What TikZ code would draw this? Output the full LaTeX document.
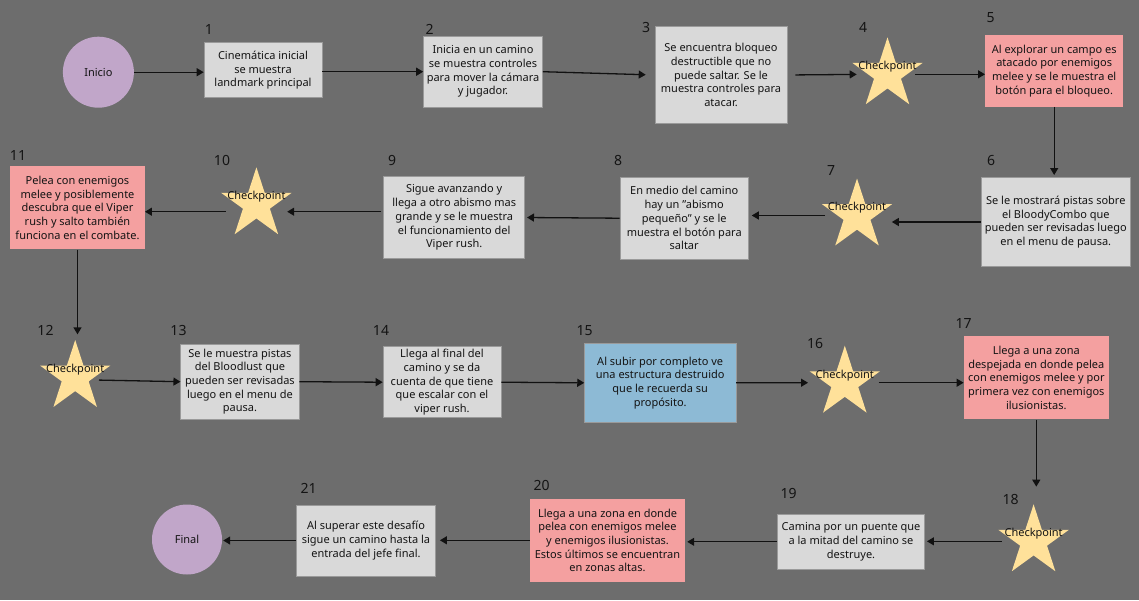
\documentclass[tikz,border=0pt]{standalone}
\usepackage{fontspec}
\setmainfont{Noto Sans}
\usetikzlibrary{shapes.geometric,arrows.meta}
\definecolor{bg}{HTML}{6D6D6D}
\definecolor{gfill}{HTML}{D9D9D9}
\definecolor{gline}{HTML}{9A9A9A}
\definecolor{pfill}{HTML}{F4A0A0}
\definecolor{bfill}{HTML}{8DBAD5}
\definecolor{purp}{HTML}{C1A6C9}
\definecolor{stfill}{HTML}{FFE19A}
\definecolor{txt}{HTML}{141414}
\definecolor{arrc}{HTML}{111111}
\begin{document}
\begin{tikzpicture}[x=1pt,y=-1pt,
  box/.style={rectangle, inner sep=0pt, align=center, font=\fontsize{11}{13.7}\selectfont, text=txt},
  gbox/.style={box, fill=gfill, draw=gline, line width=0.6pt},
  pbox/.style={box, fill=pfill},
  bbox/.style={box, fill=bfill, draw=gline, line width=0.6pt},
  endpt/.style={circle, fill=purp, inner sep=0pt, minimum size=71pt, font=\fontsize{11}{13.7}\selectfont, text=txt},
  starnode/.style={star, star points=5, star point ratio=2.618, minimum size=74pt, inner sep=0pt, fill=stfill},
  cp/.style={inner sep=0pt, font=\fontsize{11}{13.7}\selectfont, text=txt},
  num/.style={inner sep=0pt, font=\fontsize{14}{16}\selectfont, text=txt},
  arr/.style={-{Triangle[length=7pt,width=8pt]}, line width=1.3pt, draw=arrc}
]
\fill[bg] (0,0) rectangle (1139,600);
\useasboundingbox (0,0) rectangle (1139,600);

% start / end
\node[endpt] (inicio) at (98.4,72.2) {Inicio};
\node[endpt, minimum size=70pt] (final) at (187,539.5) {Final};

% boxes
\node[gbox, minimum width=118pt, minimum height=55pt] (b1) at (263,70.2)
  {Cinemática inicial\\se muestra\\landmark principal};
\node[gbox, minimum width=119pt, minimum height=71pt] (b2) at (483,71.7)
  {Inicia en un camino\\se muestra controles\\para mover la cámara\\y jugador.};
\node[gbox, minimum width=132pt, minimum height=96.6pt] (b3) at (721,75)
  {Se encuentra bloqueo\\destructible que no\\puede saltar. Se le\\muestra controles para\\atacar.};
\node[pbox, minimum width=138pt, minimum height=71.5pt] (b5) at (1054.2,70.8)
  {Al explorar un campo es\\atacado por enemigos\\melee y se le muestra el\\botón para el bloqueo.};
\node[gbox, minimum width=149.6pt, minimum height=89.4pt] (b6) at (1055.8,222)
  {Se le mostrará pistas sobre\\el BloodyCombo que\\pueden ser revisadas luego\\en el menu de pausa.};
\node[gbox, minimum width=128.5pt, minimum height=81.7pt] (b8) at (684.2,218.2)
  {En medio del camino\\hay un \symbol{34}abismo\\pequeño\symbol{34} y se le\\muestra el botón para\\saltar};
\node[gbox, minimum width=141pt, minimum height=81.6pt] (b9) at (454.2,217.5)
  {Sigue avanzando y\\llega a otro abismo mas\\grande y se le muestra\\el funcionamiento del\\Viper rush.};
\node[pbox, minimum width=134.5pt, minimum height=83.3pt] (b11) at (77.5,207.7)
  {Pelea con enemigos\\melee y posiblemente\\descubra que el Viper\\rush y salto también\\funciona en el combate.};
\node[gbox, minimum width=118.3pt, minimum height=75.3pt] (b13) at (239.9,381.7)
  {Se le muestra pistas\\del Bloodlust que\\pueden ser revisadas\\luego en el menu de\\pausa.};
\node[gbox, minimum width=118pt, minimum height=71pt] (b14) at (442,382.2)
  {Llega al final del\\camino y se da\\cuenta de que tiene\\que escalar con el\\viper rush.};
\node[bbox, minimum width=151.3pt, minimum height=79pt] (b15) at (660.2,382.8)
  {Al subir por completo ve\\una estructura destruido\\que le recuerda su\\propósito.};
\node[pbox, minimum width=145pt, minimum height=83.3pt] (b17) at (1036.3,377.7)
  {Llega a una zona\\despejada en donde pelea\\con enemigos melee y por\\primera vez con enemigos\\ilusionistas.};
\node[gbox, minimum width=147.3pt, minimum height=55pt] (b19) at (851,541.8)
  {Camina por un puente que\\a la mitad del camino se\\destruye.};
\node[pbox, minimum width=155pt, minimum height=82.7pt] (b20) at (607.5,540.3)
  {Llega a una zona en donde\\pelea con enemigos melee\\y enemigos ilusionistas.\\Estos últimos se encuentran\\en zonas altas.};
\node[gbox, minimum width=139.2pt, minimum height=71pt] (b21) at (366,540.5)
  {Al superar este desafío\\sigue un camino hasta la\\entrada del jefe final.};

% stars
\node[starnode] (s4) at (887.5,74.3) {};
\node[starnode] (s7) at (857,215.5) {};
\node[starnode] (s10) at (256.4,204.3) {};
\node[starnode] (s12) at (75.2,377) {};
\node[starnode] (s16) at (844.8,382.7) {};
\node[starnode] (s18) at (1033.6,541.3) {};
\foreach \s in {4,7,10,12,16,18}{
  \node[cp] (c\s) at ([yshift=7.5pt]s\s.center) {Checkpoint};
}

% numbers
\node[num] (n1) at (209,29) {1};
\node[num] (n2) at (429.5,29) {2};
\node[num] (n3) at (646,27.3) {3};
\node[num] (n4) at (863,27.3) {4};
\node[num] (n5) at (990.5,17.3) {5};
\node[num] (n6) at (991,160) {6};
\node[num] (n7) at (831,170.7) {7};
\node[num] (n8) at (618,160.7) {8};
\node[num] (n9) at (392,160) {9};
\node[num] (n10) at (222,160) {10};
\node[num] (n11) at (18,155) {11};
\node[num] (n12) at (45.5,330.7) {12};
\node[num] (n13) at (178.5,330.7) {13};
\node[num] (n14) at (381,330.7) {14};
\node[num] (n15) at (584.5,330.7) {15};
\node[num] (n16) at (815,343.3) {16};
\node[num] (n17) at (963.7,323.3) {17};
\node[num] (n18) at (1010.7,499.3) {18};
\node[num] (n19) at (788.5,493.3) {19};
\node[num] (n20) at (541.7,485) {20};
\node[num] (n21) at (308.7,488.3) {21};

% connectors
\draw[arr] (inicio.east) -- (inicio.east -| b1.west);
\draw[arr] (b2.west -| b1.east) -- (b2.west);
\draw[arr, shorten >=9pt] (b2.east) -- (b3.west);
\draw[arr, shorten <=8pt, shorten >=11pt] (b3.east) -- (s4.west);
\draw[arr, shorten <=8pt] (s4.east) -- (s4.east -| b5.west);
\draw[arr, shorten >=2pt] (b5.south) -- (b5.south |- b6.north);
\draw[arr, shorten >=15pt] (b6.west) -- (b6.west -| s7.east);
\draw[arr, shorten <=12pt, shorten >=3pt] (s7.west) -- (s7.west -| b8.east);
\draw[arr, shorten >=2pt] (b8.west) -- (b9.east);
\draw[arr, shorten <=2pt, shorten >=11pt] ([yshift=5.8pt]b9.west) -- ([yshift=-7.4pt]s10.east);
\draw[arr, shorten <=11pt] ([yshift=-7.4pt]s10.west) -- ([yshift=-4pt]b11.east);
\draw[arr, shorten >=5pt] (b11.south) -- (b11.south |- s12.north);
\draw[arr, shorten <=4pt] ([yshift=-3pt]s12.east) -- (b13.west);
\draw[arr] (b13.east) -- (b14.west);
\draw[arr] (b14.east) -- (b15.west);
\draw[arr, shorten >=17pt] (b15.east) -- (s16.west);
\draw[arr, shorten <=14pt] (s16.east) -- (s16.east -| b17.west);
\draw[arr, shorten >=17pt] (b17.south) -- (b17.south |- s18.north);
\draw[arr, shorten <=12pt, shorten >=2pt] (s18.west) -- (s18.west -| b19.east);
\draw[arr, shorten >=2pt] (b19.west) -- (b19.west -| b20.east);
\draw[arr, shorten >=4pt] (b20.west) -- (b20.west -| b21.east);
\draw[arr, shorten >=1pt] (b21.west) -- (b21.west -| final.east);
\end{tikzpicture}
\end{document}
